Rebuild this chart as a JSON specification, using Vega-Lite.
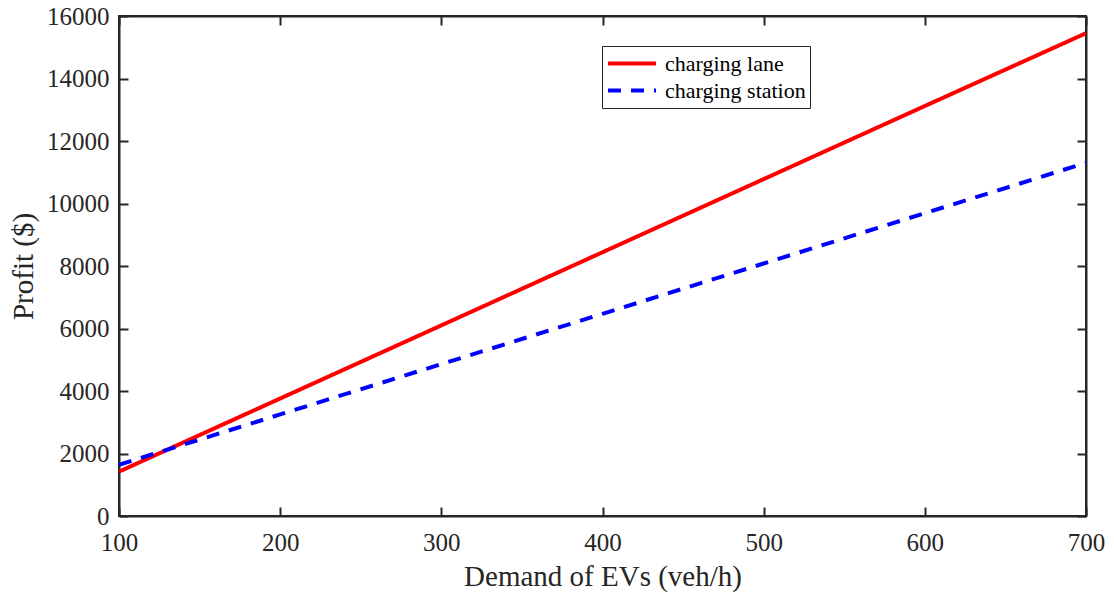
{
  "$schema": "https://vega.github.io/schema/vega-lite/v6.json",
  "width": 967,
  "height": 500,
  "autosize": {"type": "none"},
  "padding": {"left": 119, "top": 16, "right": 28, "bottom": 83},
  "background": "white",
  "data": {
    "values": [
      {"demand": 100, "profit": 1420, "series": "charging lane"},
      {"demand": 200, "profit": 3760, "series": "charging lane"},
      {"demand": 300, "profit": 6100, "series": "charging lane"},
      {"demand": 400, "profit": 8440, "series": "charging lane"},
      {"demand": 500, "profit": 10780, "series": "charging lane"},
      {"demand": 600, "profit": 13120, "series": "charging lane"},
      {"demand": 700, "profit": 15450, "series": "charging lane"},
      {"demand": 100, "profit": 1640, "series": "charging station"},
      {"demand": 200, "profit": 3250, "series": "charging station"},
      {"demand": 300, "profit": 4860, "series": "charging station"},
      {"demand": 400, "profit": 6470, "series": "charging station"},
      {"demand": 500, "profit": 8080, "series": "charging station"},
      {"demand": 600, "profit": 9690, "series": "charging station"},
      {"demand": 700, "profit": 11300, "series": "charging station"}
    ]
  },
  "layer": [
    {
      "mark": {"type": "line", "strokeWidth": 4, "clip": true},
      "encoding": {
        "x": {
          "field": "demand", "type": "quantitative",
          "scale": {"domain": [100, 700], "nice": false, "zero": false},
          "axis": {"orient": "bottom", "values": [100, 200, 300, 400, 500, 600, 700], "format": "d", "title": "Demand of EVs (veh/h)", "labelPadding": 23, "titlePadding": 7}
        },
        "y": {
          "field": "profit", "type": "quantitative",
          "scale": {"domain": [0, 16000], "nice": false},
          "axis": {"orient": "left", "values": [0, 2000, 4000, 6000, 8000, 10000, 12000, 14000, 16000], "format": "d", "title": "Profit ($)", "labelPadding": 19, "titlePadding": 8}
        },
        "color": {
          "field": "series", "type": "nominal",
          "scale": {"domain": ["charging lane", "charging station"], "range": ["#ff0000", "#0000ff"]},
          "legend": {"title": null}
        },
        "strokeDash": {
          "field": "series", "type": "nominal",
          "scale": {"domain": ["charging lane", "charging station"], "range": [[1, 0], [13, 10]]},
          "legend": {"title": null}
        }
      }
    },
    {
      "mark": {"type": "line", "opacity": 0},
      "encoding": {
        "x": {
          "field": "demand", "type": "quantitative",
          "axis": {"orient": "top", "values": [100, 200, 300, 400, 500, 600, 700], "labels": false, "title": null}
        },
        "y": {
          "field": "profit", "type": "quantitative",
          "axis": {"orient": "right", "values": [0, 2000, 4000, 6000, 8000, 10000, 12000, 14000, 16000], "labels": false, "title": null}
        },
        "detail": {"field": "series"}
      }
    }
  ],
  "resolve": {"axis": {"x": "independent", "y": "independent"}},
  "config": {
    "view": {"stroke": "#262626", "strokeWidth": 2},
    "axis": {
      "grid": false,
      "domainColor": "#262626",
      "domainWidth": 2,
      "tickColor": "#262626",
      "tickWidth": 2,
      "tickSize": -9,
      "labelFont": "Liberation Serif",
      "labelFontSize": 25,
      "labelColor": "#262626",
      "labelFlush": false,
      "labelOverlap": false,
      "titleFont": "Liberation Serif",
      "titleFontSize": 29,
      "titleFontWeight": "normal",
      "titleColor": "#262626"
    },
    "legend": {
      "orient": "none",
      "legendX": 483,
      "legendY": 30,
      "strokeColor": "#262626",
      "strokeWidth": 1,
      "fillColor": "white",
      "padding": 4,
      "labelFont": "Liberation Serif",
      "labelFontSize": 22,
      "labelColor": "#000000",
      "labelOffset": 7,
      "symbolType": "stroke",
      "symbolSize": 2304,
      "symbolStrokeWidth": 4,
      "clipHeight": 27,
      "rowPadding": 0
    }
  }
}
